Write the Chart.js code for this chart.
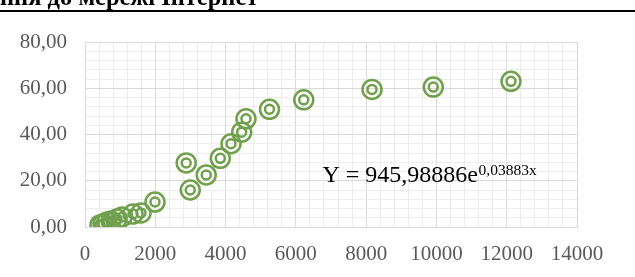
<!DOCTYPE html>
<html>
<head>
<meta charset="utf-8">
<script src="https://cdn.jsdelivr.net/npm/chart.js@4.4.1/dist/chart.umd.min.js"></script>
<style>
  html, body { margin: 0; padding: 0; background: #ffffff; }
  #wrap { position: relative; width: 635px; height: 277px; overflow: hidden; }
  #title { position: absolute; left: 0px; top: -14px; font-family: "Liberation Serif", serif; font-weight: bold; font-size: 24.5px; line-height: 22px; color: #000; white-space: nowrap; }
  #rule { position: absolute; left: 0; top: 9.5px; width: 635px; height: 2.5px; background: #000; }
  canvas { position: absolute; left: 0; top: 0; }
</style>
</head>
<body>
<div id="wrap">
  <canvas id="c" width="635" height="277"></canvas>
  <div id="title">ння до мережі Інтернет</div>
  <div id="rule"></div>
</div>
<script>
// ---- data ----
const xValues = [427, 512, 626, 740, 910, 1053, 1366, 1594, 1992, 2880, 2995, 3450, 3850, 4155, 4458, 4581, 5250, 6224, 8167, 9911, 12122];
const yValues = [0.9, 1.3, 2.2, 2.6, 3.5, 4.3, 5.6, 6.1, 10.8, 27.7, 16.0, 22.5, 29.7, 36.0, 41.0, 46.8, 50.9, 55.0, 59.5, 60.5, 63.0];
const xTickLabels = ['0', '2000', '4000', '6000', '8000', '10000', '12000', '14000'];
const yTickLabels = ['0,00', '20,00', '40,00', '60,00', '80,00'];
const equationMain = 'Y = 945,98886e';
const equationExp = '0,03883x';

const points = xValues.map((x, i) => ({ x: x, y: yValues[i] }));
const green = 'rgb(112,160,76)';
const majorGrid = '#d9d9d9';
const minorGrid = '#ececec';

const equationPlugin = {
  id: 'equation',
  afterDatasetsDraw(chart) {
    const ctx = chart.ctx;
    ctx.save();
    ctx.fillStyle = '#000';
    ctx.textBaseline = 'alphabetic';
    ctx.font = '24px "Liberation Serif"';
    const x0 = 322.5, y0 = 181.5;
    ctx.fillText(equationMain, x0, y0);
    const w = ctx.measureText(equationMain).width;
    ctx.font = '15.5px "Liberation Serif"';
    ctx.fillText(equationExp, x0 + w + 0.5, y0 - 7);
    ctx.restore();
  }
};

new Chart(document.getElementById('c'), {
  type: 'scatter',
  data: {
    datasets: [
      { data: points, pointRadius: 9.5, pointHoverRadius: 9.5, pointBorderWidth: 2.5, pointBorderColor: green, pointBackgroundColor: 'rgba(0,0,0,0)', showLine: false },
      { data: points, pointRadius: 4.5, pointHoverRadius: 4.5, pointBorderWidth: 2.5, pointBorderColor: green, pointBackgroundColor: 'rgba(0,0,0,0)', showLine: false }
    ]
  },
  options: {
    responsive: false,
    animation: false,
    events: [],
    layout: { padding: { top: 42, right: 58, left: 0, bottom: 0 } },
    plugins: { legend: { display: false }, tooltip: { enabled: false }, title: { display: false } },
    scales: {
      x: {
        type: 'linear', min: 0, max: 14000,
        afterFit(s) { s.height = 50; },
        border: { display: true, color: majorGrid, width: 1 },
        grid: { drawTicks: false, color: (c) => (c.tick && c.tick.value % 2000 === 0) ? majorGrid : minorGrid, lineWidth: 1 },
        ticks: {
          stepSize: 400, autoSkip: false, maxRotation: 0, maxTicksLimit: 1000, padding: 15,
          font: { family: 'Liberation Serif', size: 21 }, color: '#595959',
          callback: (v) => v % 2000 === 0 ? xTickLabels[v / 2000] : ''
        }
      },
      y: {
        type: 'linear', min: 0, max: 80,
        afterFit(s) { s.width = 85; },
        border: { display: true, color: majorGrid, width: 1 },
        grid: { drawTicks: false, color: (c) => (c.tick && c.tick.value % 20 === 0) ? majorGrid : minorGrid, lineWidth: 1 },
        ticks: {
          stepSize: 4, autoSkip: false, maxTicksLimit: 1000, padding: 18,
          font: { family: 'Liberation Serif', size: 21 }, color: '#595959',
          callback: (v) => v % 20 === 0 ? yTickLabels[v / 20] : ''
        }
      }
    }
  },
  plugins: [equationPlugin]
});
</script>
</body>
</html>
